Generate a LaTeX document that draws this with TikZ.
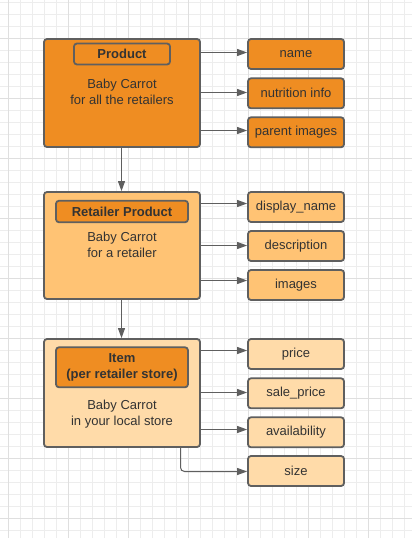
\documentclass[tikz,border=0pt]{standalone}
\usepackage{fontspec}
\setmainfont{Liberation Sans}
\usetikzlibrary{arrows.meta}
\definecolor{gridminor}{HTML}{EDEDED}
\definecolor{gridmajor}{HTML}{DFDFDF}
\definecolor{orangeA}{HTML}{EF8D22}
\definecolor{orangeB}{HTML}{FFC374}
\definecolor{orangeC}{HTML}{FFDBA9}
\definecolor{edgegray}{HTML}{5F5F5F}
\definecolor{txt}{HTML}{333333}
\tikzset{
  box/.style={draw=edgegray, line width=1.8pt, rounded corners=3pt, inner sep=0pt},
  mainbox/.style={box, minimum width=156pt, minimum height=108pt},
  labelbox/.style={box, fill=orangeA, text=txt, font=\fontsize{13}{16}\selectfont\bfseries, align=center},
  bodytext/.style={text=txt, font=\fontsize{13}{16}\selectfont, align=center, inner sep=0pt},
  attrbox/.style={box, minimum width=96pt, minimum height=30pt, text=txt, font=\fontsize{13}{16}\selectfont},
  arr/.style={draw=edgegray, line width=1pt, -{Triangle[length=10pt,width=7pt]}}
}
\begin{document}
\begin{tikzpicture}[x=1pt,y=-1pt]
\useasboundingbox (0,0) rectangle (412,538);
\fill[white] (0,0) rectangle (412,538);
% grid
\foreach \i in {0,...,33} {\draw[gridminor, line width=1pt] (8.5+12*\i,0) -- (8.5+12*\i,538);}
\foreach \i in {0,...,44} {\draw[gridminor, line width=1pt] (0,2.5+12*\i) -- (412,2.5+12*\i);}
\foreach \i in {0,...,6} {\draw[gridmajor, line width=1pt] (8.5+60*\i,0) -- (8.5+60*\i,538);}
\foreach \i in {0,...,8} {\draw[gridmajor, line width=1pt] (0,38.5+60*\i) -- (412,38.5+60*\i);}

% main boxes
\node[mainbox, fill=orangeA] (prod) at (122,93) {};
\node[labelbox, minimum width=96pt, minimum height=21pt] (prodlbl) at (122,54) {Product};
\node[bodytext] (prodtxt) at (122,91.5) {Baby Carrot\\for all the retailers};

\node[mainbox, fill=orangeB, minimum height=107pt] (ret) at (122,245.5) {};
\node[labelbox, minimum width=132pt, minimum height=21.5pt] (retlbl) at (122,211.5) {Retailer Product};
\node[bodytext] (rettxt) at (122,244.5) {Baby Carrot\\for a retailer};

\node[mainbox, fill=orangeC] (item) at (122,393) {};
\node[labelbox, minimum width=132pt, minimum height=40pt] (itemlbl) at (122,367.3) {Item\\(per retailer store)};
\node[bodytext] (itemtxt) at (122,414.5) {Baby Carrot\\in your local store};

% attribute boxes
\node[attrbox, fill=orangeA] (name) at (296,54) {name};
\node[attrbox, fill=orangeA] (nutr) at (296,93.3) {nutrition info};
\node[attrbox, fill=orangeA] (pimg) at (296,132.3) {parent images};

\node[attrbox, fill=orangeB] (dname) at (296,207) {display\_name};
\node[attrbox, fill=orangeB] (desc) at (296,246) {description};
\node[attrbox, fill=orangeB] (imgs) at (296,285) {images};

\node[attrbox, fill=orangeC] (price) at (296,354) {price};
\node[attrbox, fill=orangeC] (sale) at (296,393.3) {sale\_price};
\node[attrbox, fill=orangeC] (avail) at (296,432.3) {availability};
\node[attrbox, fill=orangeC] (size) at (296,471) {size};

% vertical arrows
\draw[arr] (prod.south -| 121.5,0) -- (ret.north -| 121.5,0);
\draw[arr] (ret.south -| 121.5,0) -- (item.north -| 121.5,0);

% horizontal arrows
\draw[arr] (prod.east |- 0,52.5) -- (name.west |- 0,52.5);
\draw[arr] (prod.east |- 0,92.5) -- (nutr.west |- 0,92.5);
\draw[arr] (prod.east |- 0,130.5) -- (pimg.west |- 0,130.5);

\draw[arr] (ret.east |- 0,203.5) -- (dname.west |- 0,203.5);
\draw[arr] (ret.east |- 0,245.5) -- (desc.west |- 0,245.5);
\draw[arr] (ret.east |- 0,280.5) -- (imgs.west |- 0,280.5);

\draw[arr] (item.east |- 0,350.5) -- (price.west |- 0,350.5);
\draw[arr] (item.east |- 0,392.5) -- (sale.west |- 0,392.5);
\draw[arr] (item.east |- 0,429.5) -- (avail.west |- 0,429.5);
\coordinate (sizeturn) at (180.5,471.5);
\draw[arr, rounded corners=4pt] (item.south -| sizeturn) |- (size.west |- sizeturn);
\end{tikzpicture}
\end{document}
